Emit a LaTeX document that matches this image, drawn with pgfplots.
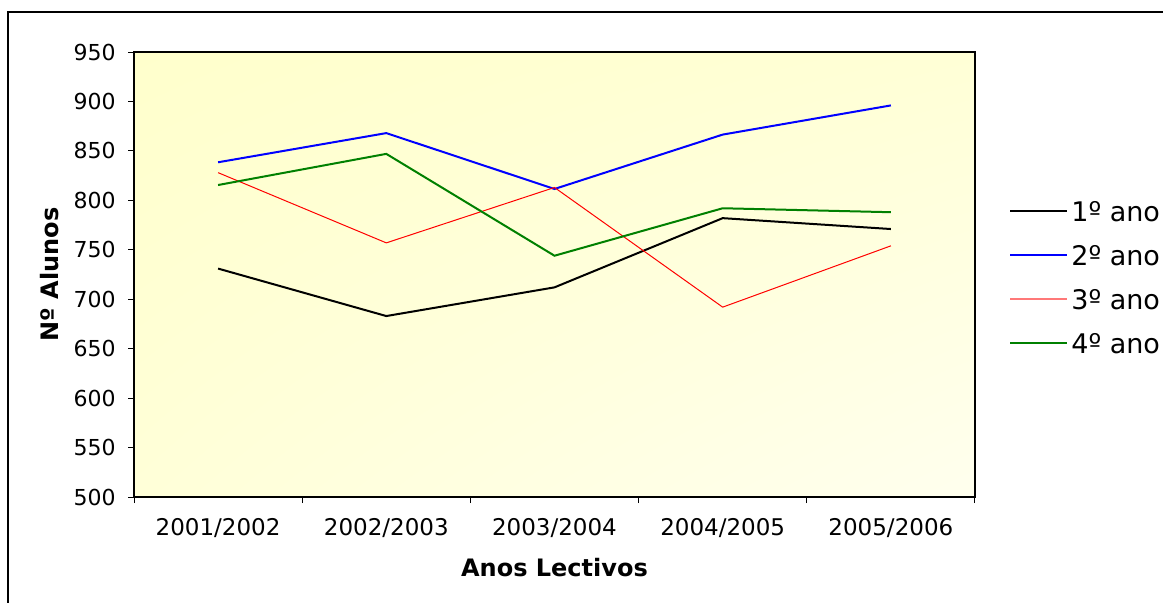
\documentclass[border=0pt]{standalone}
\usepackage{pgfplots}
\pgfplotsset{compat=1.18}
\usetikzlibrary{shadings}
\usepackage{fontspec}
\setmainfont{DejaVu Sans}
\definecolor{bgUL}{RGB}{255,255,204}
\definecolor{bgUR}{RGB}{255,255,214}
\definecolor{bgLL}{RGB}{255,255,216}
\definecolor{bgLR}{RGB}{255,255,238}
\definecolor{mygreen}{RGB}{0,128,0}
\definecolor{legred}{RGB}{255,120,120}
\begin{document}
\begin{tikzpicture}
\useasboundingbox (0,0) rectangle (581.5pt,301pt);
\draw[line width=0.6pt] (4pt,-5pt) -- (4pt,295pt) -- (600pt,295pt);
\begin{axis}[
  at={(67pt,52.5pt)}, anchor=south west,
  scale only axis, width=420.5pt, height=222.5pt,
  xmin=-0.5, xmax=4.5, ymin=500, ymax=950,
  xtick={0,1,2,3,4},
  xticklabels={2001/2002,2002/2003,2003/2004,2004/2005,2005/2006},
  minor xtick={-0.5,0.5,1.5,2.5,3.5,4.5},
  ytick={500,550,...,950},
  xtick pos=left, ytick pos=left,
  tick align=outside, major tick length=3pt, minor tick length=3pt,
  every major x tick/.style={draw=none},
  tick style={black, line width=0.5pt},
  axis line style={line width=0.8pt},
  /pgf/number format/assume math mode=true,
  ticklabel style={font=\fontsize{11}{13}\selectfont},
  xticklabel style={font=\fontsize{11.5}{13}\selectfont, anchor=north, inner sep=0pt, yshift=-7.5pt},
  yticklabel style={anchor=east, inner sep=0pt, xshift=-6pt},
  xlabel={Anos Lectivos}, ylabel={Nº Alunos},
  label style={font=\bfseries\fontsize{12}{14}\selectfont},
  x label style={at={(axis description cs:0.5,-0.1596)}, anchor=center},
  y label style={at={(axis description cs:-0.0999,0.5)}, anchor=center},
  axis background/.style={shade, upper left=bgUL, upper right=bgUR, lower left=bgLL, lower right=bgLR},
  legend style={at={(axis description cs:1.0404,0.4933)}, anchor=west, draw=none, fill=none,
    inner sep=0pt, row sep=9pt, font=\fontsize{13.5}{15}\selectfont,
    nodes={inner sep=1.5pt, text height=10pt, text depth=0pt}},
  legend cell align=left,
  legend image code/.code={\draw[#1] (0pt,0pt) -- (28.5pt,0pt);},
]
\addplot[black, line width=1pt] coordinates {(0,731) (1,683) (2,712) (3,782) (4,771)};
\addlegendentry{1º ano}
\addplot[blue, line width=1pt] coordinates {(0,838.5) (1,868) (2,811.5) (3,866.5) (4,896)};
\addlegendentry{2º ano}
\addplot[red, line width=0.5pt, legend image code/.code={\draw[draw=legred, line width=1pt] (0pt,0pt) -- (28.5pt,0pt);}] coordinates {(0,828) (1,757) (2,813) (3,692) (4,754)};
\addlegendentry{3º ano}
\addplot[mygreen, line width=1pt] coordinates {(0,815.5) (1,847) (2,744) (3,792) (4,788)};
\addlegendentry{4º ano}
\end{axis}
\end{tikzpicture}
\end{document}
